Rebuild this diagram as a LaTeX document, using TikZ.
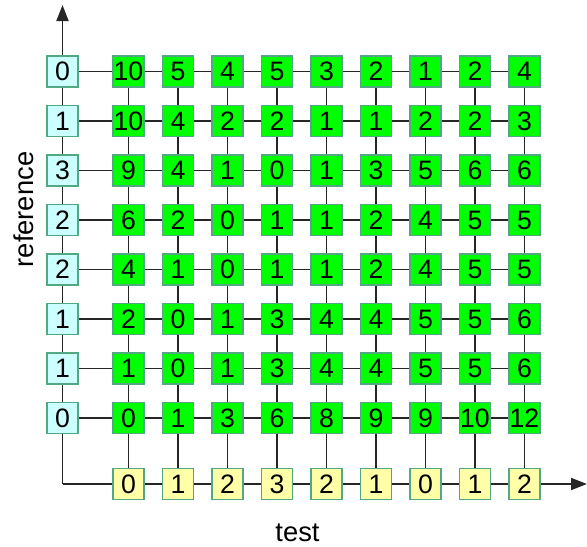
\documentclass[tikz,border=0pt]{standalone}
\usepackage{fontspec}
\setmainfont{Liberation Sans}
\usetikzlibrary{arrows.meta}
\usetikzlibrary{backgrounds}
\definecolor{edge}{HTML}{52A883}
\definecolor{refcol}{HTML}{CCFFFF}
\definecolor{testcol}{HTML}{FFFFA8}
\definecolor{cellcol}{HTML}{00FF00}
\tikzset{
  % One entry of the cost matrix
  cell/.style={
    draw=edge, fill=cellcol, line width=1.4pt, minimum size=23.3pt,
    inner sep=0pt, font=\fontsize{20}{20}\selectfont},
  % Sequence values along the axes
  refbox/.style={cell, fill=refcol},
  testbox/.style={cell, fill=testcol},
  % Connections
  link/.style={draw=black!85, line width=1.4pt},
  axis/.style={link, -{Triangle[length=12pt, width=9pt]}},
  lbl/.style={font=\fontsize{20.5}{20.5}\selectfont, inner sep=0pt},
}

\begin{document}
\begin{tikzpicture}[x=0.75pt, y=-0.75pt]
\useasboundingbox (0,0) rectangle (587,547);

\foreach \v [count=\r] in {0,1,3,2,2,1,1,0}
  \node[refbox] (ref\r) at (62.5, 22+49.5*\r) {\v};

\foreach \v [count=\c] in {0,1,2,3,2,1,0,1,2}
  \node[testbox] (tst\c) at (79+49.5*\c, 484) {\v};

\foreach \row [count=\r] in {
    {10,5,4,5,3,2,1,2,4},
    {10,4,2,2,1,1,2,2,3},
    {9,4,1,0,1,3,5,6,6},
    {6,2,0,1,1,2,4,5,5},
    {4,1,0,1,1,2,4,5,5},
    {2,0,1,3,4,4,5,5,6},
    {1,0,1,3,4,4,5,5,6},
    {0,1,3,6,8,9,9,10,12}}
  \foreach \v [count=\c] in \row
    \node[cell] (m\r-\c) at (79+49.5*\c, 22+49.5*\r) {\v};

\coordinate (origin) at (62.5, 484);
\coordinate (ytip) at (62.5, 5);
\coordinate (xtip) at (587, 484);

\begin{scope}[on background layer]
  \draw[axis] (origin) -- (ytip);
  \draw[axis] (origin) -- (xtip);
  \foreach \r in {1,...,8} {
    \draw[link] (ref\r) -- (m\r-1);
    \foreach \c [evaluate=\c as \n using {int(\c+1)}] in {1,...,8}
      \draw[link] (m\r-\c) -- (m\r-\n);
  }
  \foreach \c in {1,...,9} {
    \foreach \r [evaluate=\r as \n using {int(\r+1)}] in {1,...,7}
      \draw[link] (m\r-\c) -- (m\n-\c);
    \draw[link] (m8-\c) -- (tst\c);
  }
\end{scope}

\node[lbl, rotate=90] (reflbl) at (24, 209.5) {reference};
\node[lbl] (testlbl) at (297.5, 532.5) {test};

\end{tikzpicture}
\end{document}
